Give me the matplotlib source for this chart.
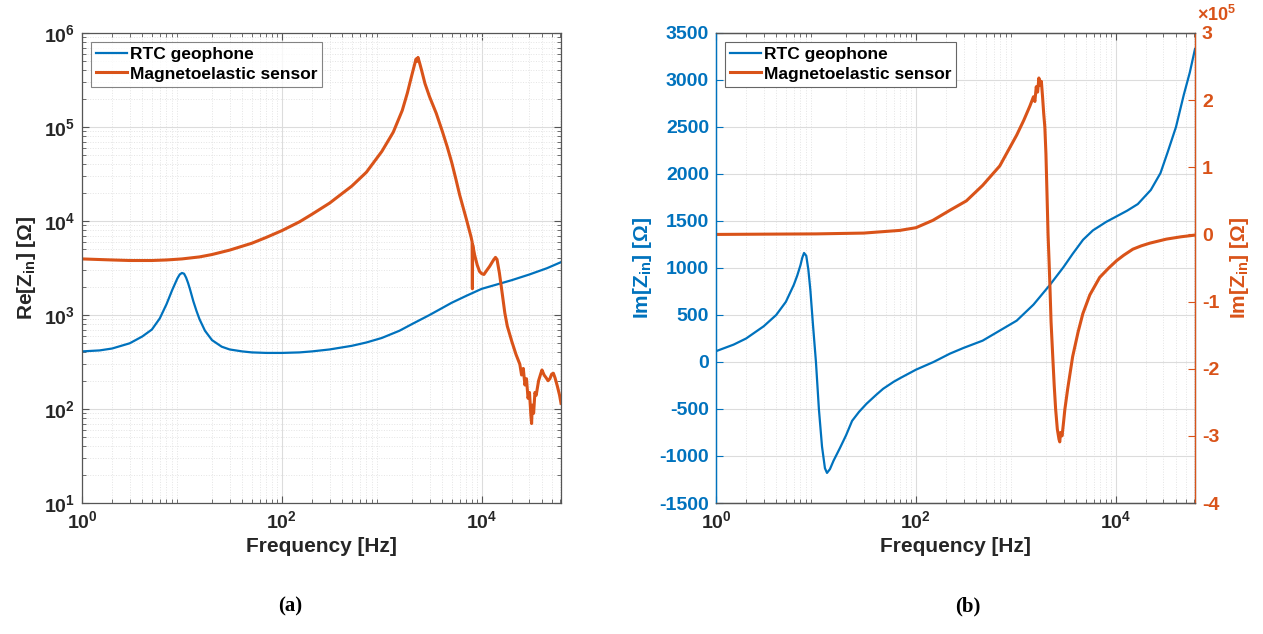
import matplotlib
matplotlib.use("Agg")
import matplotlib.pyplot as plt
from matplotlib.ticker import FuncFormatter, FixedLocator, LogLocator, MultipleLocator, NullFormatter
import math

plt.rcParams["font.family"] = ["Liberation Sans", "DejaVu Sans"]
plt.rcParams["font.weight"] = "bold"
plt.rcParams["axes.labelweight"] = "bold"
plt.rcParams["mathtext.fontset"] = "custom"
plt.rcParams["mathtext.rm"] = "Liberation Sans:bold"
plt.rcParams["mathtext.it"] = "Liberation Sans:bold"
plt.rcParams["mathtext.bf"] = "Liberation Sans:bold"
plt.rcParams["mathtext.default"] = "rm"
plt.rcParams["axes.unicode_minus"] = False

BLUE = "#0072BD"
ORANGE = "#D95319"
DARK = "#262626"

# ---- (a) real part, RTC geophone
re_geo_f = [1, 1.5, 2, 3, 4, 5, 6, 7, 8, 9, 9.5, 10, 10.5, 11, 11.5, 12, 13, 14, 15, 17, 20,
            25, 30, 40, 50, 70, 100, 150, 200, 300, 500, 700, 1000, 1500, 2000, 3000, 5000,
            7000, 10000, 15000, 20000, 30000, 45000, 62000]
re_geo = [410, 420, 440, 500, 590, 700, 920, 1300, 1850, 2450, 2700, 2800, 2750, 2500, 2200,
          1900, 1400, 1100, 900, 680, 540, 460, 430, 410, 400, 395, 395, 400, 410, 430, 470,
          510, 570, 680, 800, 1000, 1350, 1600, 1900, 2150, 2350, 2700, 3150, 3650]

# ---- (a) real part, magnetoelastic sensor
re_mag_f = [1, 2, 3, 5, 7, 10, 15, 20, 30, 50, 70, 100, 150, 200, 300, 500, 700, 1000, 1300,
            1600, 1800, 2000, 2100, 2200, 2250, 2300, 2400, 2500, 2700, 3000, 3500, 4000, 4500,
            5000, 5500, 6000, 7000, 7800, 8000, 8050, 8100, 8500, 9000, 9500, 10000, 10500,
            11000, 12000, 13000, 13700, 14200, 15000, 16000, 17000, 18000, 20000, 22000, 24000,
            25000, 26000, 27000, 28000, 29000, 30000, 31000, 31500, 32000, 33000, 34000, 35000,
            37000, 39000, 40000, 42000, 44000, 46000, 48000, 50000, 52000, 54000, 57000, 60000,
            62000]
re_mag = [3950, 3850, 3800, 3800, 3850, 3950, 4150, 4400, 4900, 5800, 6700, 7900, 9800, 11800,
          15500, 23500, 33000, 55000, 88000, 150000, 230000, 360000, 440000, 530000, 500000,
          550000, 470000, 400000, 290000, 210000, 140000, 92000, 62000, 42000, 28000, 19000,
          10500, 6800, 6000, 1900, 5600, 4300, 3400, 2900, 2750, 2700, 2900, 3300, 3800, 4100,
          3900, 2800, 1700, 1050, 760, 520, 380, 300, 230, 270, 180, 210, 130, 150, 85, 70,
          110, 90, 150, 140, 200, 240, 260, 230, 215, 200, 210, 235, 240, 215, 175, 140, 115]

# ---- (b) imaginary part, RTC geophone (left axis)
im_geo_f = [1, 1.5, 2, 3, 4, 5, 6, 6.5, 7, 7.3, 7.6, 8.0, 8.4, 8.8, 9.3, 10, 10.7, 11.5, 12.3,
            12.9, 13.8, 15, 17.4, 20, 23, 27, 32, 40, 47, 60, 70, 100, 150, 219, 300, 465, 690,
            1020, 1500, 2190, 3000, 3700, 4700, 5900, 8000, 10000, 13000, 16600, 22400, 28000,
            33000, 40000, 47800, 55000, 62000]
im_geo = [115, 185, 250, 380, 500, 640, 820, 920, 1030, 1110, 1160, 1130, 980, 760, 420, 0,
          -500, -900, -1130, -1180, -1140, -1050, -914, -780, -626, -530, -445, -350, -285,
          -210, -170, -82, 0, 89, 150, 227, 334, 440, 610, 820, 1010, 1150, 1300, 1400, 1490,
          1545, 1610, 1680, 1830, 2010, 2231, 2500, 2839, 3080, 3330]

# ---- (b) imaginary part, magnetoelastic sensor (right axis)
im_mag_f = [1, 3, 10, 30, 69, 100, 148, 219, 320, 465, 690, 1020, 1200, 1380, 1500, 1550, 1600,
            1650, 1700, 1750, 1800, 1850, 1900, 1950, 2000, 2050, 2100, 2150, 2190, 2250, 2340,
            2420, 2500, 2600, 2700, 2750, 2800, 2900, 3000, 3090, 3300, 3700, 4200, 4680, 5500,
            6900, 8500, 10200, 12000, 14800, 18000, 21900, 32000, 45000, 62000]
im_mag = [0, 400, 800, 2000, 6000, 10000, 21000, 36000, 50000, 73000, 102000, 148000, 170000,
          191000, 205000, 198000, 220000, 212000, 233000, 222000, 228000, 205000, 180000, 160000,
          120000, 60000, 0, -40000, -75000, -130000, -182000, -225000, -260000, -290000,
          -305000, -309000, -295000, -300000, -280000, -261000, -230000, -182000, -145000,
          -118000, -90000, -64000, -50000, -39000, -31000, -22000, -17000, -13000, -7000,
          -3500, -1000]

legend_labels = ["RTC geophone", "Magnetoelastic sensor"]


def style_axes(ax):
    ax.grid(True, which="major", color="#dcdcdc", linewidth=0.8)
    ax.grid(True, which="minor", color="#e4e4e4", linestyle=":", linewidth=0.7)
    ax.set_axisbelow(True)
    for s in ax.spines.values():
        s.set_color("#555555")
        s.set_linewidth(0.9)


def pow_fmt(v, pos):
    return r"$10^{%d}$" % int(round(math.log10(v)))


def log_x(ax):
    ax.set_xlim(1, 6.2e4)
    ax.xaxis.set_major_locator(FixedLocator([1, 100, 10000]))
    ax.xaxis.set_major_formatter(FuncFormatter(pow_fmt))
    ax.xaxis.set_minor_locator(LogLocator(base=10, subs=range(2, 10), numticks=20))
    ax.xaxis.set_minor_formatter(NullFormatter())


fig = plt.figure(figsize=(12.63, 6.34), dpi=100)
axa = fig.add_axes([82 / 1263, 1 - 503 / 634, 479 / 1263, 470 / 634])
axb = fig.add_axes([716 / 1263, 1 - 503 / 634, 479 / 1263, 470 / 634])

# ---------- panel (a)
axa.loglog(re_geo_f, re_geo, color=BLUE, linewidth=1.6, label=legend_labels[0])
axa.loglog(re_mag_f, re_mag, color=ORANGE, linewidth=2.2, label=legend_labels[1])
log_x(axa)
axa.set_ylim(10, 1e6)
axa.yaxis.set_major_formatter(FuncFormatter(pow_fmt))
axa.yaxis.set_minor_locator(LogLocator(base=10, subs=range(2, 10), numticks=20))
axa.yaxis.set_minor_formatter(NullFormatter())
axa.tick_params(which="both", direction="in", top=True, right=True, colors="#555555",
                labelcolor=DARK, labelsize=14, pad=5)
axa.tick_params(which="major", length=5)
axa.tick_params(which="minor", length=3)
style_axes(axa)
axa.set_xlabel("Frequency [Hz]", fontsize=15, color=DARK, labelpad=4)
axa.set_ylabel(r"Re[Z$_{\mathregular{in}}$] [Ω]", fontsize=15, color=DARK, labelpad=4)
leg = axa.legend(loc="upper left", fontsize=12.5, frameon=True, fancybox=False,
                 edgecolor="#666666", handlelength=1.8, handletextpad=0.15,
                 borderpad=0.3, labelspacing=0.25, borderaxespad=0.5)
leg.get_frame().set_linewidth(0.8)

# ---------- panel (b)
axb.semilogx(im_geo_f, im_geo, color=BLUE, linewidth=1.6)
axb.set_ylim(-1500, 3500)
axb.yaxis.set_major_locator(MultipleLocator(500))

ax2 = axb.twinx()
ax2.semilogx(im_mag_f, im_mag, color=ORANGE, linewidth=2.2)
ax2.set_ylim(-4e5, 3e5)
ax2.yaxis.set_major_locator(MultipleLocator(1e5))
ax2.yaxis.set_major_formatter(FuncFormatter(lambda v, p: "%d" % round(v / 1e5)))
log_x(axb)

axb.tick_params(which="both", direction="in", top=True, colors="#555555",
                labelcolor=DARK, labelsize=14, pad=5)
axb.tick_params(axis="y", colors=BLUE, labelcolor=BLUE)
axb.tick_params(which="major", length=5)
axb.tick_params(which="minor", length=3)
style_axes(axb)
axb.spines["left"].set_color(BLUE)
axb.set_xlabel("Frequency [Hz]", fontsize=15, color=DARK, labelpad=4)
axb.set_ylabel(r"Im[Z$_{\mathregular{in}}$] [Ω]", fontsize=15, color=BLUE, labelpad=4)

ax2.tick_params(axis="y", direction="in", colors=ORANGE, labelcolor=ORANGE, labelsize=14,
                length=5, pad=5)
for name, s in ax2.spines.items():
    s.set_linewidth(0.9)
    s.set_color("#555555")
ax2.spines["right"].set_color(ORANGE)
ax2.spines["left"].set_color(BLUE)
ax2.set_ylabel(r"Im[Z$_{\mathregular{in}}$] [Ω]", fontsize=15, color=ORANGE, labelpad=6)
ax2.text(1.005, 1.018, r"$\times10^{5}$", transform=ax2.transAxes, ha="left", va="bottom",
         fontsize=13, color=ORANGE)

hb = axb.get_lines() + ax2.get_lines()
leg2 = ax2.legend(hb, legend_labels, loc="upper left", fontsize=12.5, frameon=True,
                  fancybox=False, edgecolor="#666666", handlelength=1.8, handletextpad=0.15,
                  borderpad=0.3, labelspacing=0.25, borderaxespad=0.5, framealpha=1)
leg2.get_frame().set_linewidth(0.8)

fig.text(290 / 1263, 1 - 606 / 634, "(a)", family="Liberation Serif", fontweight="bold",
         fontsize=15, ha="center", va="center")
fig.text(968 / 1263, 1 - 606 / 634, "(b)", family="Liberation Serif", fontweight="bold",
         fontsize=15, ha="center", va="center")

fig.savefig("out.png", dpi=100)
